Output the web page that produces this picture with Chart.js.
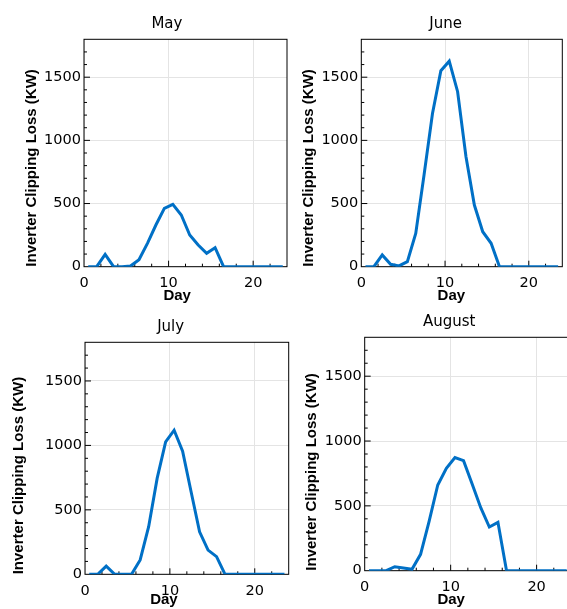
<!DOCTYPE html>
<html>
<head>
<meta charset="utf-8">
<title>Inverter clipping loss by month</title>
<script src="https://cdn.jsdelivr.net/npm/chart.js@4.4.1/dist/chart.umd.min.js"></script>
<style>
  html, body { margin: 0; padding: 0; background: #fff; overflow: hidden; }
  body { width: 567px; height: 609px; position: relative; }
  canvas { position: absolute; }
</style>
</head>
<body>
<canvas id="may"></canvas>
<canvas id="june"></canvas>
<canvas id="july"></canvas>
<canvas id="august"></canvas>
<script>
// hourly samples, plotted at the middle of each slot
const hours = [0.5, 1.5, 2.5, 3.5, 4.5, 5.5, 6.5, 7.5, 8.5, 9.5, 10.5, 11.5,
               12.5, 13.5, 14.5, 15.5, 16.5, 17.5, 18.5, 19.5, 20.5, 21.5, 22.5, 23.5];

const mayLoss = [0, 0, 98, 0, 0, 5, 55, 185, 330, 462, 493, 409,
                 251, 172, 106, 150, 0, 0, 0, 0, 0, 0, 0, 0];
const juneLoss = [0, 0, 93, 19, 6, 40, 264, 730, 1213, 1551, 1627, 1385,
                  870, 488, 277, 185, 0, 0, 0, 0, 0, 0, 0, 0];
const julyLoss = [0, 0, 64, 0, 0, 2, 111, 369, 744, 1027, 1118, 955,
                  640, 330, 188, 137, 0, 0, 0, 0, 0, 0, 0, 0];
const augustLoss = [0, 0, 0, 31, 21, 11, 126, 383, 661, 790, 872, 849,
                    669, 486, 337, 373, 0, 0, 0, 0, 0, 0, 0, 0];

const xTicks = [0, 10, 20];
const yTicks = [0, 500, 1000, 1500];
const xMax = 24;
const yMax = 1800;

const lineBlue = 'rgb(0, 112, 198)';
const gridGray = '#e4e4e4';
const tickFont = { family: "'DejaVu Sans', sans-serif", size: 14.5 };
const axisFont = { family: "'Liberation Sans', Arial, sans-serif", size: 15, weight: 'bold' };

// box around the plot plus inward major/minor tick marks
const frame = {
    id: 'frame',
    beforeDatasetsDraw(chart) {
        const { ctx, chartArea: a, scales: { x, y } } = chart;
        ctx.save();
        ctx.strokeStyle = '#000';
        ctx.lineWidth = 1;
        ctx.beginPath();
        for (let v = 2; v < xMax; v += 2) {
            const px = x.getPixelForValue(v);
            const len = v % 10 == 0 ? 6 : 3;
            ctx.moveTo(px, a.bottom);
            ctx.lineTo(px, a.bottom - len);
        }
        for (let v = 100; v < yMax; v += 100) {
            const py = y.getPixelForValue(v);
            const len = v % 500 == 0 ? 6 : 3;
            ctx.moveTo(a.left, py);
            ctx.lineTo(a.left + len, py);
        }
        ctx.stroke();
        ctx.strokeRect(a.left, a.top, a.right - a.left, a.bottom - a.top);
        ctx.restore();
    }
};

function panel(id, name, values, g) {
    const canvas = document.getElementById(id);
    canvas.width = g.w;
    canvas.height = g.h;
    canvas.style.left = g.left + 'px';
    canvas.style.top = g.top + 'px';
    return new Chart(canvas, {
        type: 'line',
        data: {
            datasets: [{
                data: hours.map((h, i) => ({ x: h, y: values[i] })),
                borderColor: lineBlue,
                borderWidth: 3,
                pointRadius: 0,
                tension: 0,
                fill: false
            }]
        },
        options: {
            responsive: false,
            animation: false,
            layout: { padding: { left: g.padL, right: g.padR, top: g.padT, bottom: 0 } },
            plugins: {
                legend: { display: false },
                tooltip: { enabled: false },
                title: {
                    display: true,
                    text: ' '.repeat(g.lead) + name,
                    color: '#000',
                    font: { family: "'DejaVu Sans', sans-serif", size: 15, weight: 'normal' },
                    padding: { top: 0, bottom: 6 }
                }
            },
            scales: {
                x: {
                    type: 'linear',
                    min: 0,
                    max: xMax,
                    afterBuildTicks: s => { s.ticks = xTicks.map(v => ({ value: v })); },
                    afterFit: s => { s.height = g.xH; },
                    grid: { color: gridGray, drawTicks: false },
                    border: { display: false },
                    ticks: { color: '#000', font: tickFont, padding: 8, maxRotation: 0 },
                    title: {
                        display: true,
                        text: 'Day' + ' '.repeat(g.dayShift),
                        color: '#000',
                        font: axisFont,
                        padding: { top: 0, bottom: 0 }
                    }
                },
                y: {
                    min: 0,
                    max: yMax,
                    afterBuildTicks: s => { s.ticks = yTicks.map(v => ({ value: v })); },
                    afterFit: s => { s.width = g.yW; },
                    grid: { color: gridGray, drawTicks: false },
                    border: { display: false },
                    ticks: { color: '#000', font: tickFont, padding: 3, format: { useGrouping: false } },
                    title: {
                        display: true,
                        text: 'Inverter Clipping Loss (KW)',
                        align: 'start',
                        color: '#000',
                        font: axisFont,
                        padding: { top: g.yTitlePad, bottom: 0 }
                    }
                }
            }
        },
        plugins: [frame]
    });
}

panel('may', 'May', mayLoss,
    { left: 0, top: 0, w: 295, h: 305, padL: 42, padR: 8, padT: 15.3, yW: 42, xH: 38.3, yTitlePad: -19, dayShift: 4, lead: 1 });
panel('june', 'June', juneLoss,
    { left: 290, top: 0, w: 277, h: 305, padL: 29.3, padR: 4.7, padT: 15.3, yW: 42, xH: 38.3, yTitlePad: -19, dayShift: 5, lead: 2 });
panel('july', 'July', julyLoss,
    { left: 0, top: 305, w: 295, h: 304, padL: 43, padR: 6.3, padT: 13.3, yW: 42, xH: 34.7, yTitlePad: -32.8, dayShift: 11, lead: 2 });
panel('august', 'August', augustLoss,
    { left: 290, top: 305, w: 300, h: 304, padL: 32.7, padR: 19, padT: 8.3, yW: 42, xH: 38.3, yTitlePad: -19.9, dayShift: 8, lead: 1 });
</script>
</body>
</html>
